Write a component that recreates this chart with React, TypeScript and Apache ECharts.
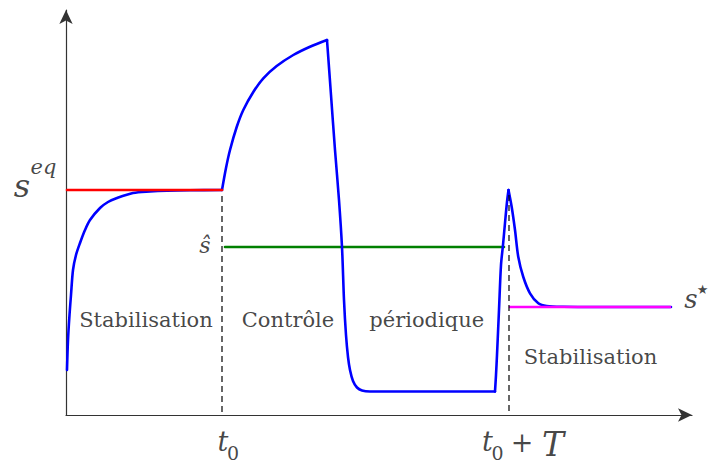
import React, { useEffect, useRef } from "react";
import * as echarts from "echarts";

// Axis extents (units measured from the origin of the drawn axes)
const X_MAX = 626;
const Y_MAX = 405;

// Key levels and instants
const sEq = 225;
const sHat = 168;
const sStar = 108;
const t0 = 156;
const t0T = 443;

// Blue trajectory, segment by segment
const stabilisationCurve: number[][] = [
  [1, 45], [2, 75], [3.5, 100], [5, 120], [7, 145], [10, 160], [14, 172], [19, 185],
  [24, 195], [34, 207], [42, 213], [51, 217], [67, 222], [84, 223.5], [101, 224.3],
  [124, 224.8], [156, 225],
];
const controlRise: number[][] = [
  [156, 225], [160, 247], [164, 265], [170.7, 288], [177.3, 305], [187.3, 323], [197.3, 336.7],
  [210.7, 349], [227.3, 360], [244, 368.3], [261, 375],
];
const controlDrop: number[][] = [
  [261, 375], [265, 320], [269, 265], [273, 215], [276, 168], [278, 115], [280, 80], [282, 58],
  [284, 45], [287, 34], [291, 27.5], [296, 24.5], [304, 23.5], [429, 23.5],
];
const periodicRise: number[][] = [
  [429, 23.5], [430, 40], [431, 60], [433, 105], [435, 150], [437, 170], [439, 192], [441, 213],
  [442.5, 225],
];
const finalDecay: number[][] = [
  [442.5, 225], [445.7, 208], [449, 185], [452.3, 158], [457.3, 138], [464, 121.7], [472.3, 111.7],
  [480.7, 109], [497, 108.2], [534, 108], [605, 108],
];

// Reference levels
const redLevel: number[][] = [[1, sEq], [t0, sEq]];
const greenLevel: number[][] = [[159, sHat], [438, sHat]];
const magentaLevel: number[][] = [[444, sStar], [604, sStar]];
const dashT0: number[][] = [[t0, 219], [t0, 0]];
const dashT0T: number[][] = [[t0T, 220], [t0T, 0]];

// Texts
const phaseTexts = ["Stabilisation", "Contrôle", "périodique", "Stabilisation"];

const MATH = "DejaVu Serif";
const TEXTFONT = "DejaVu Serif";

const labelAnchors = [
  { text: "s", at: [-44, 229], size: 32, italic: true, font: MATH },
  { text: "eq", at: [-22.5, 248], size: 21, italic: true, font: MATH },
  { text: "ŝ", at: [139, 170], size: 22, italic: true, font: MATH },
  { text: "s", at: [625, 116], size: 26, italic: true, font: MATH },
  { text: "★", at: [636.5, 126], size: 13, italic: false, font: "DejaVu Sans" },
  { text: "t", at: [157, -26.5], size: 27, italic: true, font: MATH },
  { text: "0", at: [167, -37.5], size: 19, italic: false, font: MATH },
  { text: "t", at: [421.5, -26.5], size: 27, italic: true, font: MATH },
  { text: "0", at: [431.5, -37.5], size: 19, italic: false, font: MATH },
  { text: "+", at: [456, -27.7], size: 27, italic: false, font: MATH },
  { text: "T", at: [487, -29], size: 33, italic: true, font: MATH },
  { text: phaseTexts[0], at: [80, 95], size: 21, italic: false, font: TEXTFONT },
  { text: phaseTexts[1], at: [222, 95], size: 21, italic: false, font: TEXTFONT },
  { text: phaseTexts[2], at: [360.7, 95], size: 21, italic: false, font: TEXTFONT },
  { text: phaseTexts[3], at: [524.5, 58], size: 21, italic: false, font: TEXTFONT },
];

const blueSegments = [stabilisationCurve, controlRise, controlDrop, periodicRise, finalDecay];

const axisLine = {
  show: true,
  onZero: true,
  symbol: ["none", "arrow"],
  symbolSize: [10, 14],
  lineStyle: { color: "#333", width: 1.2 },
};

const levelSeries = (data: number[][], color: string, z: number, smooth: number | boolean = false) => ({
  type: "line",
  data,
  showSymbol: false,
  silent: true,
  z,
  smooth,
  lineStyle: { color, width: 2.6, cap: "round", join: "round" },
});

const App = () => {
  const ref = useRef<HTMLDivElement>(null);
  useEffect(() => {
    if (!ref.current) return;
    const chart = echarts.init(ref.current, null, { renderer: "svg" });
    chart.setOption({
      animation: false,
      backgroundColor: "#ffffff",
      grid: { left: 66, right: 18, top: 10, bottom: 49, containLabel: false },
      xAxis: {
        type: "value",
        min: 0,
        max: X_MAX,
        axisLine,
        axisTick: { show: false },
        axisLabel: { show: false },
        splitLine: { show: false },
      },
      yAxis: {
        type: "value",
        min: 0,
        max: Y_MAX,
        axisLine,
        axisTick: { show: false },
        axisLabel: { show: false },
        splitLine: { show: false },
      },
      series: [
        levelSeries(greenLevel, "#008000", 2),
        ...blueSegments.map((seg) => levelSeries(seg, "#0000ff", 3, 0.3)),
        levelSeries(redLevel, "#ff0000", 4),
        levelSeries(magentaLevel, "#ff00ff", 4),
        {
          type: "line",
          data: dashT0,
          showSymbol: false,
          silent: true,
          z: 5,
          lineStyle: { color: "#000", width: 1.2, type: [6, 4] },
        },
        {
          type: "line",
          data: dashT0T,
          showSymbol: false,
          silent: true,
          z: 5,
          lineStyle: { color: "#000", width: 1.2, type: [6, 4] },
        },
        {
          type: "scatter",
          symbolSize: 0,
          silent: true,
          clip: false,
          z: 6,
          data: labelAnchors.map((a) => ({
            value: a.at,
            label: {
              show: true,
              position: "inside",
              formatter: a.text,
              fontSize: a.size,
              fontFamily: a.font,
              fontStyle: a.italic ? "italic" : "normal",
              color: "#151515",
              align: "center",
              verticalAlign: "middle",
            },
          })),
        },
      ],
    });
    return () => chart.dispose();
  }, []);
  return (
    <div
      ref={ref}
      style={{ position: "absolute", left: 0, top: 0, width: 710, height: 464 }}
    />
  );
};

export default App;
